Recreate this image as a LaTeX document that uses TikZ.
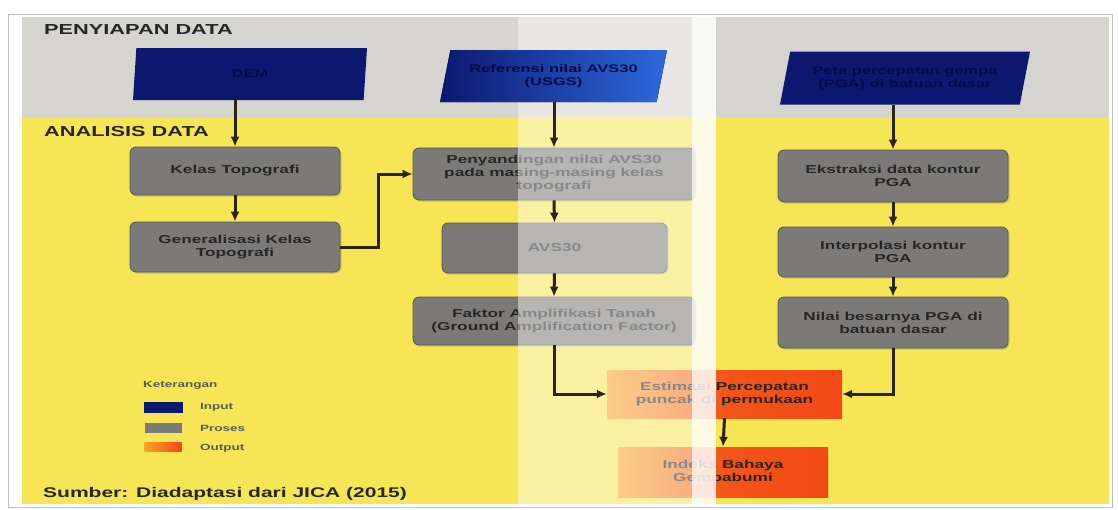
\documentclass[tikz,border=0pt]{standalone}
\usepackage{fontspec}
\setmainfont{Liberation Sans}[FakeStretch=1.5]
\usetikzlibrary{shapes.geometric,shadows,arrows.meta}
\definecolor{band}{RGB}{214,212,207}
\definecolor{yel}{RGB}{246,229,84}
\definecolor{navy}{RGB}{12,24,112}
\definecolor{navytxt}{RGB}{4,10,70}
\definecolor{blu}{RGB}{45,105,220}
\definecolor{procg}{RGB}{124,122,120}
\definecolor{procd}{RGB}{88,86,84}
\definecolor{ora}{RGB}{248,165,35}
\definecolor{redo}{RGB}{242,72,22}
\definecolor{ln}{RGB}{45,35,20}
\tikzset{
  proc/.style={rectangle, rounded corners=6pt, fill=procg, draw=procd, line width=0.8pt,
    drop shadow={shadow xshift=1.5pt,shadow yshift=-1.5pt,opacity=0.35},
    font=\bfseries\fontsize{11.5}{13}\selectfont, text=black!85, align=center, inner sep=0pt},
  outp/.style={rectangle, left color=ora, right color=redo, middle color=redo!85!ora, draw=none,
    font=\bfseries\fontsize{11.5}{13}\selectfont, text=black!85, align=center, inner sep=0pt},
  inp/.style={trapezium, trapezium left angle=66, trapezium right angle=114, trapezium stretches body,
    fill=navy, draw=none, inner sep=0pt, font=\bfseries\fontsize{11}{13}\selectfont, text=navytxt, align=center},
  arr/.style={draw=ln, line width=3pt, -{Latex[length=10pt,width=9pt]}},
  hdr/.style={anchor=west, font=\bfseries\fontsize{14.5}{15}\selectfont, text=black!85, inner sep=0pt},
  leg/.style={anchor=west, font=\bfseries\fontsize{9}{10}\selectfont, text=black!65, inner sep=0pt}
}
\begin{document}
\begin{tikzpicture}[x=1pt,y=-1pt]
\useasboundingbox (0,0) rectangle (1118,509);
\fill[white] (0,0) rectangle (1118,509);
% backgrounds
\fill[band] (22,17) rectangle (1109,117);
\fill[yel] (22,117) rectangle (1109,504);
\draw[black!25, line width=0.8pt] (8,14) rectangle (1112,507);
% headers
\node[hdr] (h1) at (44,30) {PENYIAPAN DATA};
\node[hdr] (h2) at (44,132) {ANALISIS DATA};
% inputs
\node[inp, minimum width=234, minimum height=52] (in1) at (250,74) {DEM};
\node[inp, minimum width=250, minimum height=53] (in3) at (905,78) {Peta percepatan gempa\\(PGA) di batuan dasar};
% left column
\node[proc, minimum width=210, minimum height=48] (kel) at (235,171) {Kelas Topografi};
\node[proc, minimum width=210, minimum height=50] (gen) at (235,247) {Generalisasi Kelas\\Topografi};
% middle column
\node[proc, minimum width=282, minimum height=52] (peny) at (554,174) {Penyandingan nilai AVS30\\pada masing-masing kelas\\topografi};
\node[proc, minimum width=225, minimum height=50] (avs) at (554.5,248) {AVS30};
\node[proc, minimum width=282, minimum height=48] (fak) at (554,321) {Faktor Amplifikasi Tanah\\(Ground Amplification Factor)};
% right column
\node[proc, minimum width=230, minimum height=52] (eks) at (893,176) {Ekstraksi data kontur\\PGA};
\node[proc, minimum width=230, minimum height=50] (itp) at (893,252) {Interpolasi kontur\\PGA};
\node[proc, minimum width=230, minimum height=51] (nil) at (893,322.5) {Nilai besarnya PGA di\\batuan dasar};
% outputs
\node[outp, minimum width=235, minimum height=48] (est) at (724.5,394) {Estimasi Percepatan\\puncak di permukaan};
\node[outp, minimum width=210, minimum height=50] (ind) at (723,472) {Indeks Bahaya\\Gempabumi};
% legend
\node[leg] (ket) at (143,385) {Keterangan};
\node[inp, trapezium left angle=50, trapezium right angle=130, minimum width=39, minimum height=11, font=\tiny] (lin) at (163,407) {};
\node[rectangle, fill=procg, minimum width=37, minimum height=10, inner sep=0pt] (lpr) at (163,428) {};
\node[rectangle, left color=ora, right color=redo, minimum width=37, minimum height=9, inner sep=0pt] (lou) at (163,447) {};
\node[leg] (tin) at (200,407) {Input};
\node[leg] (tpr) at (200,428) {Proses};
\node[leg] (tou) at (200,448) {Output};
\node[anchor=west, font=\bfseries\fontsize{14}{15}\selectfont, text=black!85, inner sep=0pt] (src) at (43,494) {Sumber: Diadaptasi dari JICA (2015)};
% scan artefact stripes
\fill[white, opacity=0.45] (518,17) rectangle (692,504);
\fill[white, opacity=0.85] (692,17) rectangle (716,504);
% middle input (bright)
\node[inp, minimum width=227, minimum height=52, shading=axis, left color=navy, right color=blu] (in2) at (553.5,76) {Referensi nilai AVS30\\(USGS)};
% connectors
\draw[arr] (in1.south -| kel.north) -- (kel.north);
\draw[arr] (kel.south) -- (gen.north);
\draw[arr] (gen.east) -- ++(38,0) |- (peny.west);
\draw[arr] (in2.south -| peny.north) -- (peny.north);
\draw[arr] (peny.south) -- (avs.north);
\draw[arr] (avs.south) -- (fak.north);
\draw[arr] (fak.south) |- (est.west);
\draw[arr] (in3.south -| eks.north) -- (eks.north);
\draw[arr] (eks.south) -- (itp.north);
\draw[arr] (itp.south) -- (nil.north);
\draw[arr] (nil.south) |- (est.east);
\draw[arr] (est.south) -- (ind.north);
\end{tikzpicture}
\end{document}
